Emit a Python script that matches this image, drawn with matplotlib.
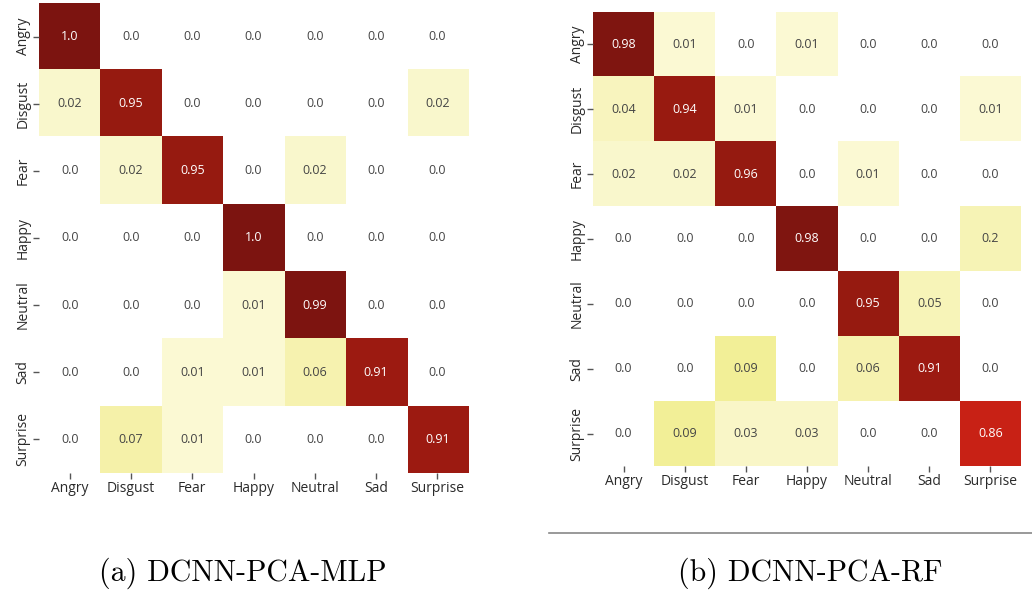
import matplotlib.pyplot as plt
from matplotlib.colors import LinearSegmentedColormap
from matplotlib.lines import Line2D
import numpy as np

plt.rcParams.update({
    'font.family': 'Open Sans',
    'font.size': 10,
    'figure.facecolor': 'w',
    'figure.dpi': 100,
})

classes = ['Angry', 'Disgust', 'Fear', 'Happy', 'Neutral', 'Sad', 'Surprise']

mlp = [
    [1.0, 0.0, 0.0, 0.0, 0.0, 0.0, 0.0],
    [0.02, 0.95, 0.0, 0.0, 0.0, 0.0, 0.02],
    [0.0, 0.02, 0.95, 0.0, 0.02, 0.0, 0.0],
    [0.0, 0.0, 0.0, 1.0, 0.0, 0.0, 0.0],
    [0.0, 0.0, 0.0, 0.01, 0.99, 0.0, 0.0],
    [0.0, 0.0, 0.01, 0.01, 0.06, 0.91, 0.0],
    [0.0, 0.07, 0.01, 0.0, 0.0, 0.0, 0.91],
]

rf = [
    [0.98, 0.01, 0.0, 0.01, 0.0, 0.0, 0.0],
    [0.04, 0.94, 0.01, 0.0, 0.0, 0.0, 0.01],
    [0.02, 0.02, 0.96, 0.0, 0.01, 0.0, 0.0],
    [0.0, 0.0, 0.0, 0.98, 0.0, 0.0, 0.2],
    [0.0, 0.0, 0.0, 0.0, 0.95, 0.05, 0.0],
    [0.0, 0.0, 0.09, 0.0, 0.06, 0.91, 0.0],
    [0.0, 0.09, 0.03, 0.03, 0.0, 0.0, 0.86],
]

captions = ['(a) DCNN-PCA-MLP', '(b) DCNN-PCA-RF']

# white at zero, pale yellow for small values, dark red near 1
cmap = LinearSegmentedColormap.from_list('cm', [
    (0.0, '#FFFFFF'), (0.008, '#FBF9D3'), (0.03, '#F9F6C6'),
    (0.1, '#F2EE90'), (0.25, '#F9F6C8'), (0.6, '#E8743A'),
    (0.86, '#CC2216'), (0.9, '#9E1B12'), (0.965, '#951A10'),
    (0.975, '#801610'), (1.0, '#7C1410')])


def draw_cm(ax, data):
    data = np.array(data)
    ax.imshow(data, cmap=cmap, vmin=0, vmax=1, aspect='auto',
              interpolation='nearest')
    for i in range(data.shape[0]):
        for j in range(data.shape[1]):
            v = data[i, j]
            ax.text(j, i, str(v), ha='center', va='center', fontsize=9,
                    color='white' if v > 0.5 else '#444444')
    ax.set_xticks(range(len(classes)))
    ax.set_yticks(range(len(classes)))
    ax.set_xticklabels(classes)
    ax.set_yticklabels(classes, rotation=90, va='center')
    ax.tick_params(length=4, width=1, color='#555555', labelcolor='#2a2a2a',
                   pad=2)
    for s in ax.spines.values():
        s.set_visible(False)


fig = plt.figure(figsize=(10.32, 5.93))
ax1 = fig.add_axes([0.0378, 0.2024, 0.4157, 0.7926])
ax2 = fig.add_axes([0.5746, 0.2142, 0.4147, 0.7656])
draw_cm(ax1, mlp)
draw_cm(ax2, rf)

fig.text(0.2355, 0.034, captions[0], fontfamily='cmr10', fontsize=21.5,
         ha='center', va='center')
fig.text(0.785, 0.034, captions[1], fontfamily='cmr10', fontsize=21.5,
         ha='center', va='center')
fig.add_artist(Line2D([0.532, 1.0], [0.101, 0.101], color='#888888', lw=1.2))

fig.savefig('out.png')
